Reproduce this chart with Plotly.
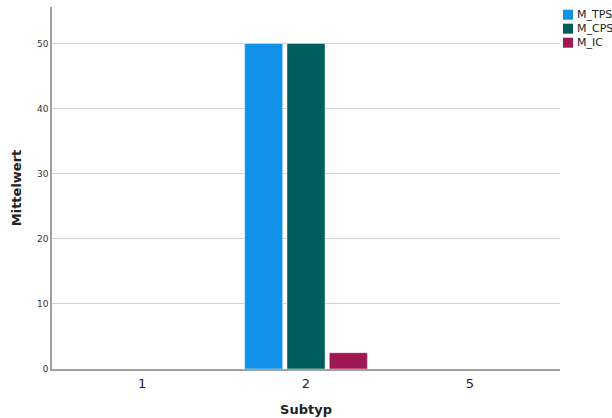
import plotly.graph_objects as go

# Mean values per subtype
subtyp = ["1", "2", "5"]
m_tps = [0, 50, 0]
m_cps = [0, 50, 0]
m_ic = [0, 2.5, 0]

series = [
    ("M_TPS", m_tps, "#1192e8"),
    ("M_CPS", m_cps, "#005d5d"),
    ("M_IC", m_ic, "#9f1853"),
]

W, H = 612, 418
ML, MR, MT, MB = 52, 52, 7, 49
PW, PH = W - ML - MR, H - MT - MB


def px_x(px):
    return (px - ML) / PW


def px_y(py):
    return 1 - (py - MT) / PH


fig = go.Figure()
for name, vals, color in series:
    fig.add_trace(go.Bar(
        x=subtyp, y=vals, name=name,
        marker=dict(color=color, line=dict(color="rgba(255,255,255,0.6)", width=0.8)),
    ))

# Compact legend at the top right: swatch plus label per series
for i, (name, _, color) in enumerate(series):
    cy = 14.7 + 14 * i
    fig.add_shape(
        type="rect", xref="paper", yref="paper",
        x0=px_x(563), x1=px_x(573), y0=px_y(cy + 5), y1=px_y(cy - 5),
        fillcolor=color, line=dict(width=0),
    )
    fig.add_annotation(
        xref="paper", yref="paper", x=px_x(574.5), y=px_y(cy),
        xanchor="left", yanchor="middle", text=name, showarrow=False,
        font=dict(size=11, color="#222"),
    )

fig.update_layout(
    width=W, height=H,
    margin=dict(l=ML, r=MR, t=MT, b=MB),
    paper_bgcolor="white", plot_bgcolor="white",
    font=dict(family="DejaVu Sans", color="#222"),
    barmode="group", bargap=0.225, bargroupgap=0.1,
    showlegend=False,
)

fig.update_xaxes(
    type="category", range=[-0.55, 2.55], automargin=False,
    showline=True, linecolor="#a0a0a0", linewidth=1.5,
    showgrid=False, ticks="outside", ticklen=2, tickcolor="rgba(0,0,0,0)",
    tickfont=dict(size=13, color="#222"),
    title=dict(text="<b>Subtyp</b>", font=dict(size=13, color="#222"), standoff=15),
)
fig.update_yaxes(
    range=[0, 55.6], tickvals=[0, 10, 20, 30, 40, 50], automargin=False,
    showline=True, linecolor="#a0a0a0", linewidth=1.5,
    showgrid=True, gridcolor="#d4d4d4", gridwidth=1,
    zeroline=False, ticks="", tickfont=dict(size=9, color="#333"),
    title=dict(text="<b>Mittelwert</b>", font=dict(size=13, color="#222"), standoff=12),
)

fig.write_html("out.html")
